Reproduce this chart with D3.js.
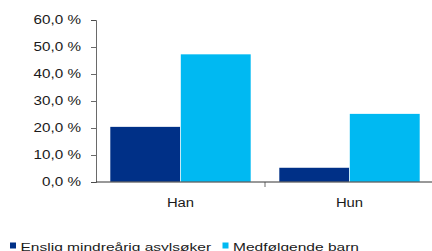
<!DOCTYPE html>
<html>
<head>
<meta charset="utf-8">
<script src="https://cdn.jsdelivr.net/npm/d3@7"></script>
<style>
  body { margin: 0; background: #fff; }
  text { font-family: "Liberation Sans", Arial, sans-serif; fill: #1a1a1a; }
</style>
</head>
<body>
<div id="chart"></div>
<script>
// Data
const categories = ["Han", "Hun"];
const seriesNames = ["Enslig mindreårig asylsøker", "Medfølgende barn"];
const seriesValues = [
  [20.5, 5.4],   // Enslig mindreårig asylsøker
  [47.4, 25.3]   // Medfølgende barn
];
const yTicks = [0, 10, 20, 30, 40, 50, 60];
const colors = ["#003087", "#00b9f2"];

const width = 432, height = 251;
const margin = {top: 20, right: -2, bottom: 69, left: 96};

const svg = d3.select("#chart")
  .append("svg")
    .attr("width", width)
    .attr("height", height);

// Scales
const x = d3.scaleBand()
  .domain(categories)
  .range([margin.left, width - margin.right]);

const y = d3.scaleLinear()
  .domain([0, 60])
  .range([height - margin.bottom, margin.top]);

const groupPad = 14;
const xs = d3.scaleBand()
  .domain(d3.range(seriesNames.length))
  .range([groupPad, x.bandwidth() - groupPad]);

// Bars
seriesValues.forEach((vals, i) => {
  svg.selectAll(`rect.s-${i}`)
    .data(vals)
    .enter()
    .append("rect")
      .attr("class", `s-${i}`)
      .attr("x", (d, j) => x(categories[j]) + xs(i))
      .attr("y", d => y(d))
      .attr("width", xs.bandwidth())
      .attr("height", d => y(0) - y(d))
      .style("fill", colors[i])
      .style("stroke", "#fff")
      .style("stroke-width", 0.6);
});

// Y axis
const yAxis = svg.append("g")
  .attr("transform", "translate(" + margin.left + ",0)")
  .call(d3.axisLeft(y)
    .tickValues(yTicks)
    .tickSize(5)
    .tickFormat(d => d3.format(".1f")(d).replace(".", ",") + " %"));
yAxis.select(".domain").attr("stroke", "#444").attr("stroke-width", 0.8);
yAxis.selectAll(".tick line").attr("stroke", "#444").attr("stroke-width", 0.8);
yAxis.selectAll(".tick text")
  .attr("x", null)
  .attr("transform", "translate(-15,0) scale(1.27,1)")
  .style("font-size", "12px")
  .style("font-family", "'Liberation Sans', Arial, sans-serif")
  .attr("fill", "#1a1a1a");

// X axis
const xAxisG = svg.append("g")
  .attr("transform", "translate(0," + y(0) + ")");
xAxisG.append("line")
  .attr("x1", margin.left)
  .attr("x2", width)
  .attr("stroke", "#333")
  .attr("stroke-width", 1);
xAxisG.selectAll("line.sep")
  .data(categories.slice(1))
  .enter()
  .append("line")
    .attr("class", "sep")
    .attr("x1", d => x(d))
    .attr("x2", d => x(d))
    .attr("y1", 0)
    .attr("y2", 5)
    .attr("stroke", "#444")
    .attr("stroke-width", 0.8);
xAxisG.selectAll("text.cat")
  .data(categories)
  .enter()
  .append("text")
    .attr("class", "cat")
    .attr("transform", d => "translate(" + (x(d) + groupPad + xs.bandwidth()) + ",24.5) scale(1.1,1)")
    .style("text-anchor", "middle")
    .style("font-size", "13.5px")
    .text(d => d);

// Legend
const legendX = [10, 222.5];
const legend = svg.selectAll("g.legend")
  .data(seriesNames)
  .enter()
  .append("g")
    .attr("class", "legend")
    .attr("transform", (d, i) => "translate(" + legendX[i] + ",242.5)");
legend.append("rect")
  .attr("x", 0)
  .attr("y", 0)
  .attr("width", 6)
  .attr("height", 6)
  .style("fill", (d, i) => colors[i]);
legend.append("text")
  .attr("transform", "translate(10.5,8) scale(1.35,1)")
  .style("font-size", "11.5px")
  .text(d => d);
</script>
</body>
</html>
